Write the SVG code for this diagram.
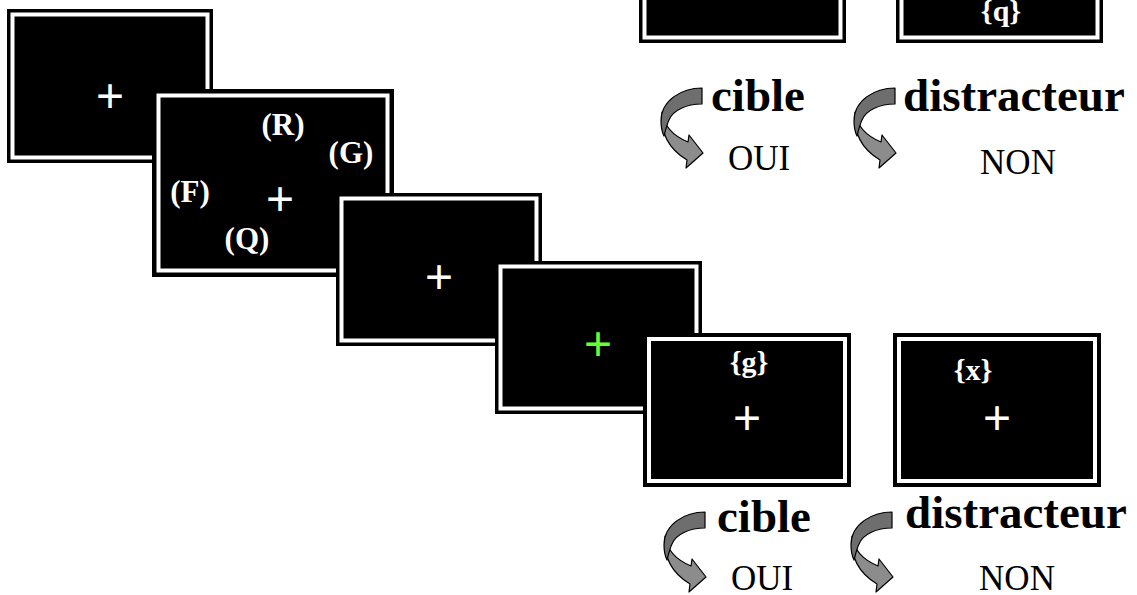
<svg xmlns="http://www.w3.org/2000/svg" xmlns:xlink="http://www.w3.org/1999/xlink" width="1137" height="595" viewBox="0 0 1137 595">
  <style>
    .screen { fill: #000; }
    .rim { fill: none; stroke: #fff; stroke-width: 4; }
    .fix { font-family: "Liberation Sans", Arial, sans-serif; font-size: 48px; fill: #fff; text-anchor: middle; }
    .go { fill: #66ff33; }
    .stim { font-family: "Liberation Serif", "Times New Roman", serif; font-weight: bold; font-size: 30px; fill: #fff; text-anchor: middle; }
    .set { font-size: 31px; }
    .cat { font-family: "Liberation Serif", "Times New Roman", serif; font-weight: bold; font-size: 47px; fill: #000; }
    .resp { font-family: "Liberation Serif", "Times New Roman", serif; font-size: 35px; fill: #000; text-anchor: middle; }
    .turn-a { fill: #6e6e6e; stroke: #000; stroke-width: 1.2; stroke-linejoin: round; }
    .turn-b { fill: #8c8c8c; stroke: #000; stroke-width: 1.2; stroke-linejoin: round; }
  </style>
  <defs>
    <!-- twisted ribbon arrow: curls left from the label, then points right at the response -->
    <g id="turn">
      <path class="turn-b" d="M662,112 C660,136 672,151 687,160 L686,168 L703,153 L689,135 L688,142 C676,137 664,128 662,112 Z"/>
      <path class="turn-a" d="M702,88 C682,88 661,100 661,121 C661,128 662,132 664,136 C666,128 667,124 669,120 C673,110 687,104 702,104 Z"/>
    </g>
  </defs>

  <rect width="1137" height="595" fill="#fff"/>

  <!-- top row: the two probe screens (only their lower edges are in view) -->
  <g id="screen-top-target">
    <rect class="screen" x="639" y="-111" width="207" height="154"/>
    <rect class="rim" x="644.5" y="-105.5" width="196" height="143"/>
  </g>
  <g id="screen-top-distractor">
    <rect class="screen" x="896" y="-111" width="207" height="154"/>
    <rect class="rim" x="901.5" y="-105.5" width="196" height="143"/>
    <text class="stim" x="1001" y="21">{q}</text>
  </g>

  <!-- trial sequence, each screen drawn over the previous one -->
  <g id="screen-fixation">
    <rect class="screen" x="7" y="9" width="206" height="154"/>
    <rect class="rim" x="12.5" y="14.5" width="195" height="143"/>
    <text class="fix" x="110" y="112">+</text>
  </g>
  <g id="screen-memory-set">
    <rect class="screen" x="152" y="89" width="242" height="188"/>
    <rect class="rim" x="158.5" y="95.5" width="229" height="175"/>
    <text class="stim set" x="283" y="135">(R)</text>
    <text class="stim set" x="351" y="163">(G)</text>
    <text class="stim set" x="190" y="202">(F)</text>
    <text class="stim set" x="247" y="249">(Q)</text>
    <text class="fix" x="280" y="215">+</text>
  </g>
  <g id="screen-retention">
    <rect class="screen" x="336" y="193" width="206" height="153"/>
    <rect class="rim" x="341.5" y="198.5" width="195" height="142"/>
    <text class="fix" x="439" y="293">+</text>
  </g>
  <g id="screen-cue">
    <rect class="screen" x="495" y="261" width="207" height="153"/>
    <rect class="rim" x="500.5" y="266.5" width="196" height="142"/>
    <text class="fix go" x="598" y="360">+</text>
  </g>
  <g id="screen-probe-target">
    <rect class="screen" x="643" y="333" width="208" height="154"/>
    <rect class="rim" x="649" y="339" width="196" height="142"/>
    <text class="stim" x="749" y="372">{g}</text>
    <text class="fix" x="747" y="434">+</text>
  </g>
  <g id="screen-probe-distractor">
    <rect class="screen" x="893" y="333" width="208" height="154"/>
    <rect class="rim" x="899" y="339" width="196" height="142"/>
    <text class="stim" x="973" y="380">{x}</text>
    <text class="fix" x="997" y="434">+</text>
  </g>

  <!-- response arrows -->
  <g id="connectors">
    <use xlink:href="#turn"/>
    <use xlink:href="#turn" transform="translate(193,0)"/>
    <use xlink:href="#turn" transform="translate(3,424)"/>
    <use xlink:href="#turn" transform="translate(190,424)"/>
  </g>

  <!-- labels -->
  <g id="labels-top">
    <text class="cat" x="711" y="111">cible</text>
    <text class="cat" x="903" y="111">distracteur</text>
    <text class="resp" x="759" y="170">OUI</text>
    <text class="resp" x="1018" y="174">NON</text>
  </g>
  <g id="labels-bottom">
    <text class="cat" x="717" y="532">cible</text>
    <text class="cat" x="905" y="528">distracteur</text>
    <text class="resp" x="762" y="590">OUI</text>
    <text class="resp" x="1017" y="590">NON</text>
  </g>
</svg>
